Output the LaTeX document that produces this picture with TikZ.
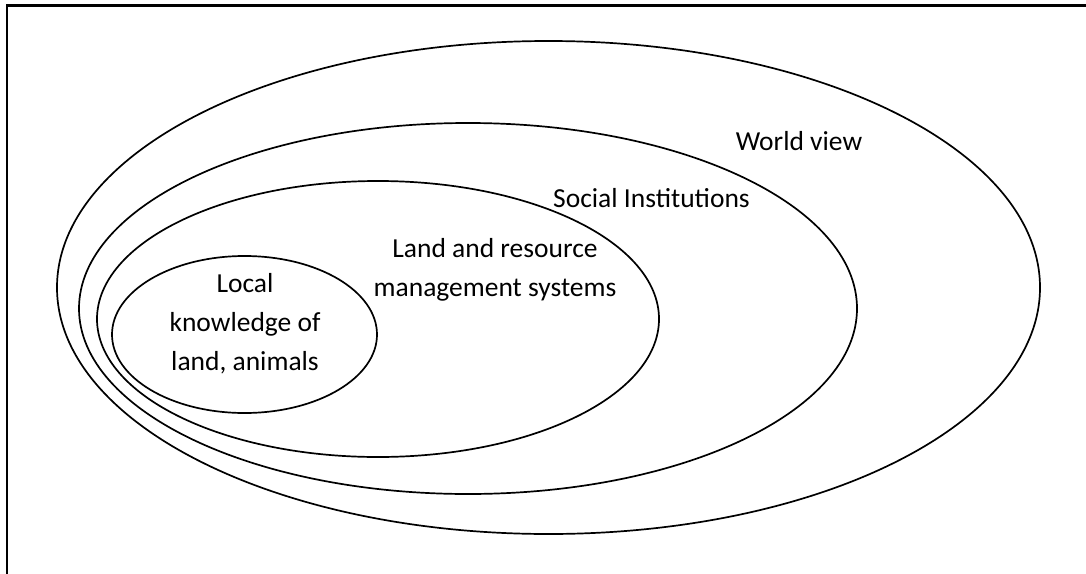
\documentclass[tikz,border=0pt]{standalone}
\usepackage{fontspec}
\setmainfont{Carlito}
\begin{document}
\begin{tikzpicture}[x=1pt,y=-1pt,
  ring/.style={line width=1.7pt,black},
  frame/.style={line width=2.2pt,black},
  lbl/.style={font=\fontsize{27.5}{39}\selectfont,align=center,anchor=base,inner sep=0pt}]
\useasboundingbox (0,0) rectangle (1086,573);
\draw[frame] (7,580) -- (7,5.5) -- (1090,5.5);
\draw[ring] (548.5,287.5) ellipse [x radius=491.5, y radius=246.5];
\draw[ring] (468,308.5) ellipse [x radius=389, y radius=185.5];
\draw[ring] (378,319) ellipse [x radius=281, y radius=138];
\draw[ring] (244.5,334.5) ellipse [x radius=132.5, y radius=78.5];
\node[lbl] (wv) at (799,150) {World view};
\node[lbl] (si) at (651.5,207) {Social Institutions};
\node[lbl] (lr) at (495,296) {Land and resource\\management systems};
\node[lbl] (lk) at (245,370) {Local\\knowledge of\\land, animals};
\end{tikzpicture}
\end{document}
